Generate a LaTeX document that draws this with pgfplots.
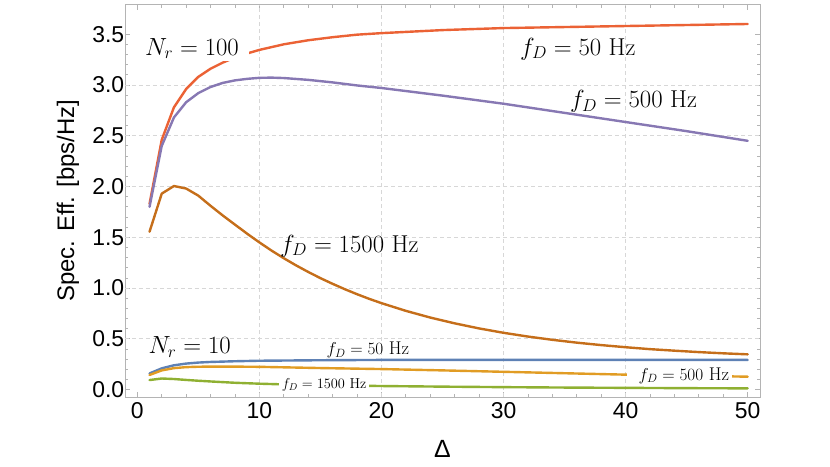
\documentclass[border=0pt]{standalone}
\usepackage[no-math]{fontspec}
\newfontfamily\arial{Liberation Sans}
\usepackage{pgfplots}
\pgfplotsset{compat=1.18}
\definecolor{cblue}{HTML}{5E81B5}
\definecolor{corange}{HTML}{E19C24}
\definecolor{cgreen}{HTML}{8FB032}
\definecolor{cred}{HTML}{EB6235}
\definecolor{cpurple}{HTML}{8778B3}
\definecolor{cbrown}{HTML}{C56E1A}
\definecolor{framegray}{RGB}{180,180,180}
\definecolor{gridgray}{RGB}{215,215,215}

\pgfplotstableread{
x y
1 1.83
2 2.46
3 2.78
4 2.96
5 3.08
6 3.16
7 3.22
8 3.27
9 3.31
10 3.345
12 3.40
14 3.44
16 3.47
18 3.495
20 3.51
25 3.54
30 3.56
35 3.57
40 3.58
45 3.59
50 3.60
}\redtab

\pgfplotstableread{
x y
1 1.80
2 2.40
3 2.68
4 2.83
5 2.92
6 2.98
7 3.02
8 3.045
9 3.06
10 3.07
11 3.072
12 3.068
14 3.05
16 3.025
18 2.995
20 2.97
22 2.94
25 2.895
30 2.815
35 2.725
40 2.635
45 2.545
50 2.45
}\purpletab

\pgfplotstableread{
x y
1 1.555
2 1.93
3 2.005
4 1.98
5 1.91
6 1.81
7 1.715
8 1.625
9 1.535
10 1.45
11 1.369
12 1.294
13 1.224
14 1.159
15 1.098
16 1.042
17 0.989
18 0.940
19 0.894
20 0.852
22 0.776
24 0.710
26 0.653
28 0.603
30 0.560
32 0.523
34 0.491
36 0.463
38 0.439
40 0.418
42 0.399
44 0.384
46 0.370
48 0.358
50 0.348
}\browntab

\pgfplotstableread{
x y
1 0.16
2 0.21
3 0.24
4 0.257
5 0.267
6 0.273
8 0.28
10 0.285
15 0.29
20 0.293
30 0.294
40 0.294
50 0.293
}\bluetab

\pgfplotstableread{
x y
1 0.145
2 0.19
3 0.212
4 0.222
5 0.226
6 0.227
8 0.227
10 0.225
15 0.213
20 0.203
25 0.19
30 0.176
35 0.162
40 0.148
45 0.138
50 0.128
}\orangetab

\pgfplotstableread{
x y
1 0.095
2 0.11
3 0.105
4 0.096
5 0.088
6 0.081
8 0.068
10 0.059
12 0.052
15 0.045
20 0.036
25 0.030
30 0.025
35 0.021
40 0.018
45 0.015
50 0.013
}\greentab

\begin{document}
\begin{tikzpicture}
\path[use as bounding box] (-125bp,-70bp) rectangle (705bp,397bp);
\begin{axis}[
  scale only axis, width=635bp, height=392.3bp,
  at={(0,0)}, anchor=south west,
  xmin=-1.01, xmax=51.01, ymin=-0.072, ymax=3.79,
  xtick={0,10,20,30,40,50}, minor x tick num=4,
  ytick={0,0.5,1,1.5,2,2.5,3,3.5}, minor y tick num=4,
  tick align=inside, major tick length=5.5bp, minor tick length=3.3bp,
  axis line style={framegray, line width=0.9bp},
  tick style={framegray, line width=0.8bp},
  extra x ticks={10,20,30,40}, extra x tick labels={},
  extra y ticks={0.5,1,1.5,2,2.5,3}, extra y tick labels={},
  extra tick style={grid=major, major tick length=0pt},
  major grid style={gridgray, dash pattern=on 4bp off 3bp, line width=0.8bp},
  tick label style={font=\arial\fontsize{23}{27}\selectfont},
  /pgf/number format/assume math mode=true,
  yticklabel style={/pgf/number format/fixed, /pgf/number format/fixed zerofill, /pgf/number format/precision=1, xshift=2.7bp},
  xticklabel style={yshift=-2.3bp},
  xlabel={\arial\fontsize{25}{30}\selectfont Δ},
  ylabel={\arial\fontsize{24}{29}\selectfont Spec. Eff. [bps/Hz]},
  xlabel style={at={(axis description cs:0.5,-0.1326)}, anchor=center},
  ylabel style={at={(axis description cs:-0.0898,0.5)}, anchor=center},
  every axis plot/.append style={line width=2.4bp, line join=round, line cap=round},
]
\addplot[cblue] table[x=x,y=y] {\bluetab};
\addplot[corange] table[x=x,y=y] {\orangetab};
\addplot[cgreen] table[x=x,y=y] {\greentab};
\addplot[cred] table[x=x,y=y] {\redtab};
\addplot[cpurple] table[x=x,y=y] {\purpletab};
\addplot[cbrown] table[x=x,y=y] {\browntab};

\node[anchor=base west, fill=white, inner xsep=10bp, inner ysep=2bp, xshift=-10bp, font=\fontsize{24.5}{29}\selectfont] at (axis cs:0.63,3.294) {$N_r = 100$};
\node[anchor=base west, inner sep=0pt, font=\fontsize{24.5}{29}\selectfont] at (axis cs:31.34,3.294) {$f_D = 50$ Hz};
\node[anchor=base west, inner sep=0pt, font=\fontsize{24.5}{29}\selectfont] at (axis cs:35.44,2.78) {$f_D = 500$ Hz};
\node[anchor=base west, inner sep=0pt, font=\fontsize{24.5}{29}\selectfont] at (axis cs:11.69,1.355) {$f_D = 1500$ Hz};
\node[anchor=base west, inner sep=0pt, font=\fontsize{24.5}{29}\selectfont] at (axis cs:0.9,0.358) {$N_r = 10$};
\node[anchor=base west, inner sep=0pt, font=\fontsize{18.5}{22}\selectfont] at (axis cs:15.5,0.342) {$f_D = 50$ Hz};
\node[anchor=base west, fill=white, inner xsep=3bp, inner ysep=1bp, xshift=-12bp, font=\fontsize{18.5}{22}\selectfont] at (axis cs:41.06,0.095) {\hspace*{9bp}$f_D = 500$ Hz};
\node[anchor=base west, fill=white, inner xsep=3bp, inner ysep=1bp, xshift=-3bp, font=\fontsize{14.5}{17}\selectfont] at (axis cs:11.83,0.014) {$f_D = 1500$ Hz};
\end{axis}
\end{tikzpicture}
\end{document}
